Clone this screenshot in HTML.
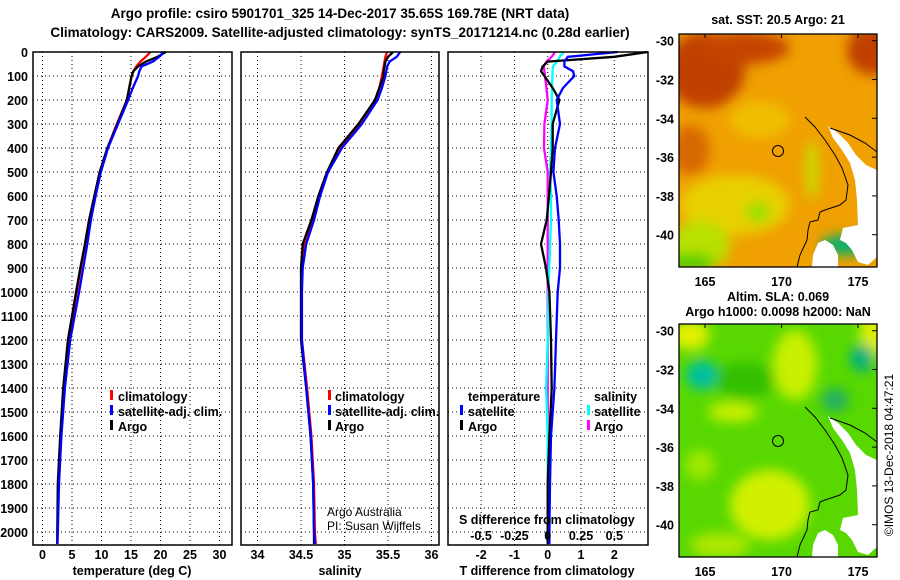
<!DOCTYPE html>
<html><head><meta charset="utf-8"><style>
body{margin:0;background:#fff;}
svg{display:block;font-family:"Liberation Sans",sans-serif;font-weight:bold;}
</style></head><body>
<svg id="chart" width="900" height="580" viewBox="0 0 900 580">
<defs>
<filter id="bl" x="-20%" y="-20%" width="140%" height="140%"><feGaussianBlur stdDeviation="6"/></filter>
<clipPath id="mc"><rect x="679" y="34" width="198" height="233"/></clipPath>
</defs>
<text x="340" y="18" font-size="13.5" text-anchor="middle">Argo profile: csiro 5901701_325 14-Dec-2017 35.65S 169.78E (NRT data)</text>
<text x="340" y="37" font-size="13.5" text-anchor="middle">Climatology: CARS2009. Satellite-adjusted climatology: synTS_20171214.nc (0.28d earlier)</text>
<g id="grid"></g>
<g id="lines"></g>
<g id="frames"></g>
<g id="labels" font-size="12.5"></g>

<g font-size="12.5">
<rect x="110" y="390" width="3" height="10" fill="#f00"/><text x="118" y="401">climatology</text>
<rect x="110" y="405" width="3" height="10" fill="#00f"/><text x="118" y="416">satellite-adj. clim.</text>
<rect x="110" y="420" width="3" height="10" fill="#000"/><text x="118" y="431">Argo</text>
</g>
<g font-size="12.5">
<rect x="328" y="390" width="3" height="10" fill="#f00"/><text x="335" y="401">climatology</text>
<rect x="328" y="405" width="3" height="10" fill="#00f"/><text x="335" y="416">satellite-adj. clim.</text>
<rect x="328" y="420" width="3" height="10" fill="#000"/><text x="335" y="431">Argo</text>
</g>
<g font-size="12" font-weight="normal">
<text x="327" y="516">Argo Australia</text><text x="327" y="530">PI: Susan Wijffels</text>
</g>
<g font-size="12.5">
<text x="468" y="401">temperature</text>
<rect x="460" y="405" width="3" height="10" fill="#00f"/><text x="468" y="416">satellite</text>
<rect x="460" y="420" width="3" height="10" fill="#000"/><text x="468" y="431">Argo</text>
<text x="594" y="401">salinity</text>
<rect x="587" y="405" width="3" height="10" fill="#0ff"/><text x="594" y="416">satellite</text>
<rect x="587" y="420" width="3" height="10" fill="#f0f"/><text x="594" y="431">Argo</text>
</g>
<text x="459" y="524" font-size="12.5">S difference from climatology</text>

<text x="778" y="24" font-size="12.5" text-anchor="middle">sat. SST: 20.5 Argo: 21</text>
<g clip-path="url(#mc)">
<rect x="679" y="34" width="198" height="233" fill="#f0a000"/>
<g filter="url(#bl)">
<ellipse cx="705" cy="70" rx="40" ry="38" fill="#c04000"/>
<ellipse cx="745" cy="48" rx="45" ry="16" fill="#c44400"/>
<ellipse cx="872" cy="50" rx="25" ry="25" fill="#c04000"/>
<ellipse cx="690" cy="150" rx="20" ry="25" fill="#d86800"/>
<ellipse cx="760" cy="120" rx="30" ry="18" fill="#f0c000"/>
<ellipse cx="735" cy="205" rx="55" ry="30" fill="#e8d000"/>
<ellipse cx="700" cy="245" rx="30" ry="25" fill="#b8e000"/>
<ellipse cx="758" cy="212" rx="12" ry="10" fill="#90e000"/>
<ellipse cx="690" cy="262" rx="25" ry="8" fill="#40d000"/>
<ellipse cx="845" cy="245" rx="25" ry="10" fill="#00b070"/>
<ellipse cx="812" cy="170" rx="6" ry="30" fill="#c8e000"/>
</g>
</g>
<g clip-path="url(#mc)">
<polygon points="828,126 838,133 848,143 856,155 866,165 877,170 877,257 868,265 858,262 852,250 846,243 840,240 843,228 858,225 857,200 855,180 850,163 842,150 833,138" fill="#fff"/>
<polygon points="818,243 825,240 833,245 838,255 838,267 812,267 813,255" fill="#fff"/>
<polyline points="805,117 815,127 825,140 835,155 842,168 848,185 846,200 840,205 825,210 820,212 818,220 810,222 808,230 807,240 800,255 797,267" fill="none" stroke="#000" stroke-width="1"/>
<polyline points="830,128 850,135 865,143 877,152" fill="none" stroke="#000" stroke-width="1"/>
</g>
<circle cx="778" cy="151" r="5.5" fill="none" stroke="#000" stroke-width="1"/>
<rect x="679" y="34" width="198" height="233" fill="none" stroke="#000" stroke-width="1.3"/>

<text x="778" y="301" font-size="12.5" text-anchor="middle">Altim. SLA: 0.069</text>
<text x="778" y="316" font-size="12.5" text-anchor="middle">Argo h1000: 0.0098 h2000: NaN</text>
<g clip-path="url(#mc)" transform="translate(0,290)">
<rect x="679" y="34" width="198" height="233" fill="#58d800"/>
<g filter="url(#bl)">
<ellipse cx="690" cy="45" rx="20" ry="15" fill="#e0f000"/>
<ellipse cx="872" cy="45" rx="12" ry="25" fill="#e0f000"/>
<ellipse cx="795" cy="75" rx="22" ry="35" fill="#c8f000"/>
<ellipse cx="702" cy="85" rx="16" ry="15" fill="#00c0a0"/>
<ellipse cx="862" cy="68" rx="12" ry="14" fill="#00b080"/>
<ellipse cx="835" cy="110" rx="14" ry="12" fill="#20b060"/>
<ellipse cx="733" cy="122" rx="25" ry="10" fill="#c8f000"/>
<ellipse cx="770" cy="215" rx="40" ry="35" fill="#d0f000"/>
<ellipse cx="700" cy="175" rx="15" ry="15" fill="#a0e800"/>
<ellipse cx="745" cy="90" rx="30" ry="18" fill="#30c000"/>
<ellipse cx="720" cy="255" rx="30" ry="12" fill="#b0e800"/>
</g>
</g>
<g clip-path="url(#mc)" transform="translate(0,290)">
<polygon points="828,126 838,133 848,143 856,155 866,165 877,170 877,257 868,265 858,262 852,250 846,243 840,240 843,228 858,225 857,200 855,180 850,163 842,150 833,138" fill="#fff"/>
<polygon points="818,243 825,240 833,245 838,255 838,267 812,267 813,255" fill="#fff"/>
<polyline points="805,117 815,127 825,140 835,155 842,168 848,185 846,200 840,205 825,210 820,212 818,220 810,222 808,230 807,240 800,255 797,267" fill="none" stroke="#000" stroke-width="1"/>
<polyline points="830,128 850,135 865,143 877,152" fill="none" stroke="#000" stroke-width="1"/>
</g>
<circle cx="778" cy="441" r="5.5" fill="none" stroke="#000" stroke-width="1"/>
<rect x="679" y="324" width="198" height="233" fill="none" stroke="#000" stroke-width="1.3"/>
<g id="maplabels" font-size="12.5"></g>
<text transform="translate(893,455) rotate(-90)" font-size="12" font-weight="normal" text-anchor="middle">©IMOS 13-Dec-2018 04:47:21</text>
</svg>
<script>
const depths=[0,20,40,60,80,100,150,200,300,400,500,600,700,800,900,1000,1200,1400,1600,1800,2000,2050];
const tempArgo=[20.9,19.5,17.5,16.2,15.4,15.1,14.7,14.3,12.7,11.0,9.7,8.8,7.9,7.2,6.4,5.7,4.3,3.5,3.0,2.6,2.5,2.5];
const tempClim=[18.3,17.5,16.6,15.9,15.4,15.1,14.7,14.3,12.6,11.0,9.7,8.8,7.9,7.2,6.5,5.8,4.4,3.6,3.1,2.7,2.55,2.5];
const tempSat=[20.6,19.8,18.7,16.8,16.4,16.2,15.3,14.5,12.8,11.1,9.9,9.0,8.2,7.6,6.9,6.2,4.7,3.8,3.2,2.8,2.6,2.55];
const salArgo=[35.56,35.5,35.47,35.46,35.45,35.45,35.4,35.35,35.16,34.93,34.8,34.7,34.62,34.52,34.5,34.5,34.5,34.56,34.61,34.64,34.65,34.65];
const salClim=[35.49,35.47,35.46,35.45,35.44,35.43,35.4,35.35,35.17,34.95,34.8,34.7,34.63,34.54,34.51,34.51,34.51,34.57,34.62,34.65,34.66,34.67];
const salSat=[35.64,35.6,35.52,35.49,35.48,35.47,35.43,35.38,35.2,34.97,34.81,34.72,34.65,34.56,34.52,34.51,34.51,34.56,34.61,34.64,34.65,34.66];
const dTArgo=[3.0,2.0,0,-0.15,-0.2,-0.1,0.15,0.35,0.15,0.15,0.1,0.04,-0.03,-0.2,-0.05,0.05,0.1,0.12,0.05,0,0,0];
const dTSat=[2.1,0.6,0.5,0.5,0.76,0.8,0.46,0.27,0.37,0.22,0.17,0.27,0.33,0.37,0.37,0.3,0.25,0.2,0.1,0.07,0.05,0.05];
const dSArgo=[0.055,0.03,-0.01,-0.03,-0.025,-0.02,-0.01,0,-0.025,-0.028,0,0,0,0,0,0,0,0,0,0,0,0];
const dSSat=[0.12,0.09,0.07,0.04,0.037,0.035,0.032,0.03,0.03,0.025,0.018,0.025,0.025,0.018,0.012,0.005,0,-0.012,0,0,0,0];
const depthTicks=[0,100,200,300,400,500,600,700,800,900,1000,1100,1200,1300,1400,1500,1600,1700,1800,1900,2000];
const tempTicks=[0,5,10,15,20,25,30];
const salTicks=[34,34.5,35,35.5,36];
const dTTicks=[-2,-1,0,1,2];
const dSTicks=[-0.5,-0.25,0,0.25,0.5];
const latTicks=[-30,-32,-34,-36,-38,-40];
const lonTicks=[165,170,175];

const NS='http://www.w3.org/2000/svg';
function mk(tag,attrs,parent,txt){const e=document.createElementNS(NS,tag);for(const k in attrs)e.setAttribute(k,attrs[k]);if(txt!==undefined)e.textContent=txt;parent.appendChild(e);return e;}
const Y=d=>52+0.24*d;
const xT=t=>42.5+5.9*t;
const xS=s=>257.5+87*(s-34);
const xDT=t=>547.7+33.3*t;
const xDS=s=>547.7+133.3*s;
const panels=[[33,232],[241,439],[448,648]];
const grid=document.getElementById('grid'),lines=document.getElementById('lines'),frames=document.getElementById('frames'),labels=document.getElementById('labels');
panels.forEach(([a,b],i)=>{
  depthTicks.forEach(d=>{if(d>0){const l=mk('line',{x1:a,x2:b,y1:Y(d),y2:Y(d),stroke:'#000','stroke-width':1,'stroke-dasharray':'1,3'},grid);}});
  const r=mk('rect',{x:a,y:52,width:b-a,height:493,fill:'none',stroke:'#000','stroke-width':1.5},frames);
  
});
function vgrid(arr,fx,a,b){arr.forEach(v=>{const x=fx(v);if(x>a&&x<b){const l=mk('line',{x1:x,x2:x,y1:52,y2:545,stroke:'#000','stroke-width':1,'stroke-dasharray':'1,3'},grid);}});}
vgrid(tempTicks,xT,33,232);vgrid(salTicks,xS,241,439);vgrid(dTTicks,xDT,448,648);
depthTicks.forEach(d=>{const t=mk('text',{x:28,y:Y(d)+5,'text-anchor':'end'},labels,String(d));});
function xl(arr,fx,y){arr.forEach(v=>{const t=mk('text',{x:fx(v),y:y,'text-anchor':'middle'},labels,String(v));});}
xl(tempTicks,xT,559);xl(salTicks,xS,559);xl(dTTicks,xDT,559);xl(dSTicks,xDS,540);
[['temperature (deg C)',132],['salinity',340],['T difference from climatology',547]].forEach(([s,x])=>{const t=mk('text',{x:x,y:575,'text-anchor':'middle'},labels,s);});
function series(xs,fx,color,name){const pts=depths.map((d,i)=>fx(xs[i]).toFixed(1)+','+Y(d).toFixed(1)).join(' ');const p=mk('polyline',{points:pts,fill:'none',stroke:color,'stroke-width':2.3},lines);}
series(tempClim,xT,'#f00','temp-climatology-line');series(tempArgo,xT,'#000','temp-argo-line');series(tempSat,xT,'#00f','temp-satellite-line');
series(salClim,xS,'#f00','sal-climatology-line');series(salArgo,xS,'#000','sal-argo-line');series(salSat,xS,'#00f','sal-satellite-line');
series(dSArgo,xDS,'#f0f','sdiff-argo-line');series(dSSat,xDS,'#0ff','sdiff-satellite-line');series(dTArgo,xDT,'#000','tdiff-argo-line');series(dTSat,xDT,'#00f','tdiff-satellite-line');
const ml=document.getElementById('maplabels');
[0,290].forEach(off=>{
  latTicks.forEach(v=>{const y=40.7+(-30-v)*19.4+off;const t=mk('text',{x:674,y:y+5,'text-anchor':'end'},ml,String(v));
    mk('line',{x1:877,x2:872,y1:y,y2:y,stroke:'#000'},ml);});
  lonTicks.forEach(v=>{const x=705+(v-165)*15.3;const t=mk('text',{x:x,y:off+286,'text-anchor':'middle'},ml,String(v));
    mk('line',{x1:x,x2:x,y1:off+34,y2:off+38,stroke:'#000'},ml);});
});
</script>
</body></html>
